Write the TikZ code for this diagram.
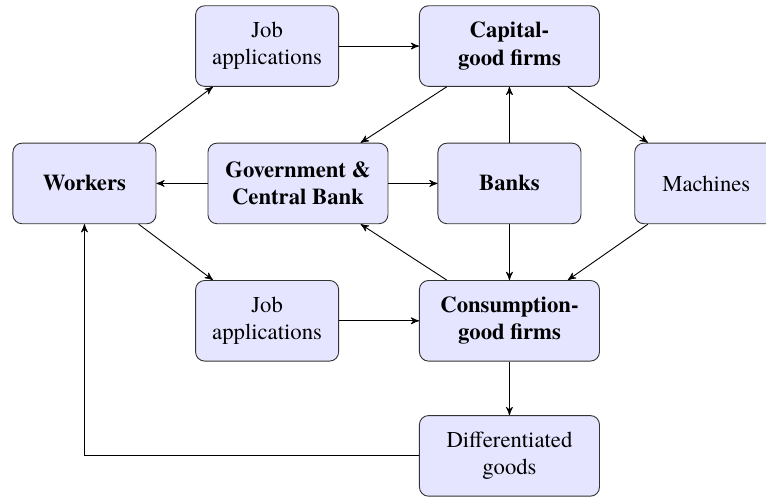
\documentclass[tikz,border=0pt]{standalone}
\usepackage{fontspec}
\setmainfont{texgyretermes}[Extension=.otf, UprightFont=*-regular, BoldFont=*-bold, ItalicFont=*-italic, BoldItalicFont=*-bolditalic]
\usetikzlibrary{positioning, arrows}

\begin{document}
\begin{tikzpicture}[
        agent/.style={draw=black!80, fill=blue!10, rounded corners=4pt, align=center,
            minimum width=63pt, minimum height=35.5pt, inner sep=2pt},
        wide/.style={agent, minimum width=79.3pt},
        main/.style={font=\bfseries},
        flow/.style={->, >=stealth'},
        node distance=24.6pt and 22pt]
            \useasboundingbox (-37.2pt,80.8pt) rectangle ++(337.4pt,-218.9pt);
            \node[agent, main] (workers) {Workers};
            \node[wide, main, right=22.5pt of workers] (gov) {Government \&\\Central Bank};
            \node[agent, main, right=21.6pt of gov] (banks) {Banks};
            \node[agent, right=23.3pt of banks] (machines) {Machines};
            \node[wide, main, above=of banks] (capital) {Capital-\\good firms};
            \node[wide, main, below=of banks] (consumption) {Consumption-\\good firms};
            \node[wide, below=23.6pt of consumption] (diff) {Differentiated\\goods};
            \node[agent, left=35.2pt of capital] (jobtop) {Job\\applications};
            \node[agent, left=35.2pt of consumption] (jobbot) {Job\\applications};
            \draw[flow] (workers) -- (jobtop);
            \draw[flow] (jobtop) -- (capital);
            \draw[flow] (capital) -- (gov);
            \draw[flow] (capital) -- (machines);
            \draw[flow] (banks) -- (capital);
            \draw[flow] (gov) -- (workers);
            \draw[flow] (gov) -- (banks);
            \draw[flow] (banks) -- (consumption);
            \draw[flow] (machines) -- (consumption);
            \draw[flow] (consumption) -- (gov);
            \draw[flow] (workers) -- (jobbot);
            \draw[flow] (jobbot) -- (consumption);
            \draw[flow] (consumption) -- (diff);
            \draw[flow] (diff) -| (workers);
        \end{tikzpicture}
\end{document}
